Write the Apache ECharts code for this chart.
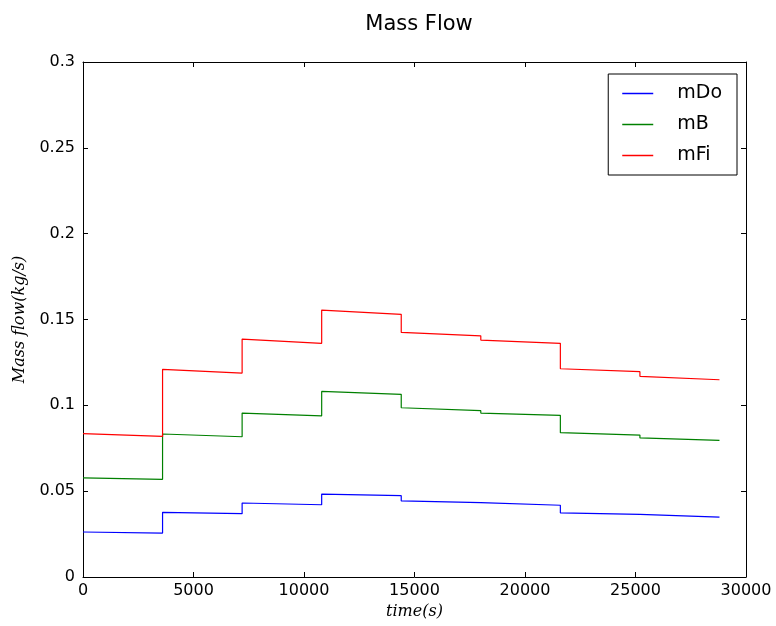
<!DOCTYPE html>
<html>
<head>
<meta charset="utf-8">
<script src="https://cdn.jsdelivr.net/npm/echarts@6/dist/echarts.min.js"></script>
<style>html,body{margin:0;padding:0;background:#fff}#c{width:776px;height:626px}</style>
</head>
<body>
<div id="c"></div>
<script>
// Segment start times (s); each segment lasts one step
const segStart = [0, 3600, 7200, 10800, 14400, 18000, 21600, 25200];
const segEnd = [3600, 7200, 10800, 14400, 18000, 21600, 25200, 28800];
const seriesNames = ['mDo', 'mB', 'mFi'];
// values at start / end of each segment
const mDoStart = [0.0262, 0.0377, 0.0431, 0.0483, 0.0443, 0.0423, 0.0373, 0.0357];
const mDoEnd   = [0.0256, 0.0369, 0.0421, 0.0474, 0.0433, 0.0418, 0.0365, 0.0349];
const mBStart  = [0.0578, 0.0833, 0.0955, 0.1081, 0.0986, 0.0955, 0.0841, 0.0810];
const mBEnd    = [0.0569, 0.0817, 0.0939, 0.1064, 0.0969, 0.0942, 0.0827, 0.0796];
const mFiStart = [0.0835, 0.1210, 0.1386, 0.1555, 0.1425, 0.1380, 0.1213, 0.1169];
const mFiEnd   = [0.0819, 0.1188, 0.1361, 0.1530, 0.1405, 0.1361, 0.1196, 0.1149];
const colors = ['#0000ff', '#008000', '#ff0000'];

function build(st, en) {
  const d = [];
  for (let i = 0; i < segStart.length; i++) {
    d.push([segStart[i], st[i]]);
    d.push([segEnd[i], en[i]]);
  }
  return d;
}
const allData = [build(mDoStart, mDoEnd), build(mBStart, mBEnd), build(mFiStart, mFiEnd)];

const chart = echarts.init(document.getElementById('c'), null, {renderer: 'canvas'});
const tickFont = {fontFamily: 'DejaVu Sans', fontSize: 16, color: '#000'};
const lineStyle = {color: '#000', width: 1};
chart.setOption({
  animation: false,
  backgroundColor: '#fff',
  title: {
    text: 'Mass Flow', left: 414, top: 9, textAlign: 'center',
    textStyle: {fontFamily: 'DejaVu Sans', fontSize: 21, fontWeight: 'normal', color: '#000'}
  },
  grid: {left: 83, right: 30, top: 62, bottom: 49, containLabel: false},
  legend: {
    orient: 'vertical', right: 39, top: 74,
    data: seriesNames,
    icon: 'rect', itemWidth: 31, itemHeight: 1.5, itemGap: 12,
    padding: [10, 15, 10, 14],
    borderColor: '#000', borderWidth: 1, backgroundColor: '#fff',
    textStyle: {fontFamily: 'DejaVu Sans', fontSize: 19, color: '#000', padding: [0, 0, 0, 19]}
  },
  xAxis: [{
    type: 'value', min: 0, max: 30000, interval: 5000,
    name: 'time(s)', nameLocation: 'middle', nameGap: 24,
    nameTextStyle: {fontFamily: 'DejaVu Serif', fontStyle: 'italic', fontSize: 16, color: '#000'},
    axisLine: {show: true, onZero: false, lineStyle: lineStyle},
    axisTick: {show: true, inside: true, length: 5, lineStyle: lineStyle},
    axisLabel: Object.assign({margin: 6, formatter: v => String(v)}, tickFont),
    splitLine: {show: false}
  }, {
    type: 'value', position: 'top', min: 0, max: 30000, interval: 5000,
    axisLine: {show: true, onZero: false, lineStyle: lineStyle},
    axisTick: {show: true, inside: true, length: 5, lineStyle: lineStyle},
    axisLabel: {show: false}, splitLine: {show: false}
  }],
  yAxis: [{
    type: 'value', min: 0, max: 0.3, interval: 0.05,
    name: 'Mass flow(kg/s)', nameLocation: 'middle', nameGap: 55,
    nameTextStyle: {fontFamily: 'DejaVu Serif', fontStyle: 'italic', fontSize: 16, color: '#000'},
    axisLine: {show: true, onZero: false, lineStyle: lineStyle},
    axisTick: {show: true, inside: true, length: 5, lineStyle: lineStyle},
    axisLabel: Object.assign({margin: 8}, tickFont),
    splitLine: {show: false}
  }, {
    type: 'value', position: 'right', min: 0, max: 0.3, interval: 0.05,
    axisLine: {show: true, onZero: false, lineStyle: lineStyle},
    axisTick: {show: true, inside: true, length: 5, lineStyle: lineStyle},
    axisLabel: {show: false}, splitLine: {show: false}
  }],
  series: seriesNames.map((n, i) => ({
    name: n, type: 'line', data: allData[i], xAxisIndex: 0, yAxisIndex: 0,
    symbol: 'none', color: colors[i],
    lineStyle: {color: colors[i], width: 1.2}
  }))
});
</script>
</body>
</html>
